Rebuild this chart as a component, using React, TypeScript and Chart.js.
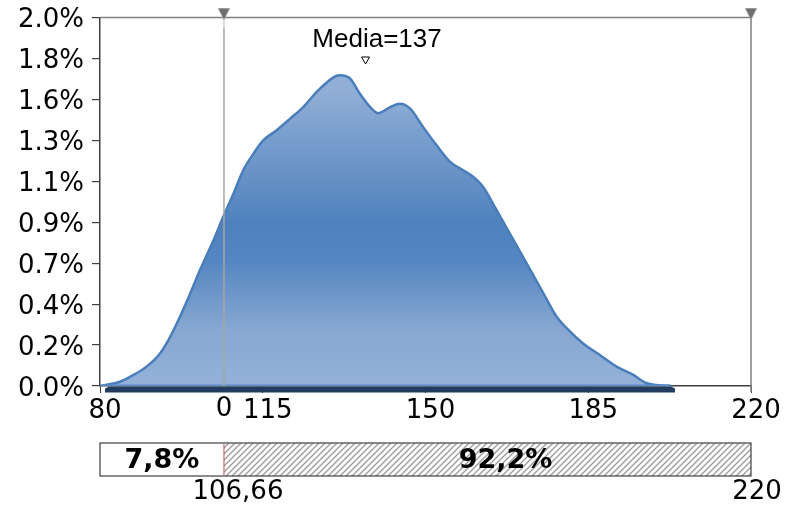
import React, { useEffect, useRef } from 'react';
import { Chart, registerables } from 'chart.js';

Chart.register(...registerables);

// ---- data ----
const CURVE_X = [80.0, 84.3, 87.2, 90.0, 92.9, 95.1, 97.2, 99.4, 101.5, 104.4, 106.5, 108.7, 110.8, 113.0, 115.1, 118.0, 120.9, 123.7, 127.3, 131.6, 133.8, 135.9, 138.1, 139.8, 142.4, 144.5, 146.7, 149.5, 152.4, 155.3, 158.1, 160.3, 162.4, 165.3, 168.2, 171.0, 173.2, 175.3, 178.2, 180.4, 183.9, 187.5, 191.1, 194.7, 197.6, 202.8];
const CURVE_Y = [0.0, 0.023, 0.06, 0.105, 0.177, 0.267, 0.376, 0.502, 0.629, 0.791, 0.918, 1.044, 1.171, 1.261, 1.333, 1.388, 1.451, 1.514, 1.614, 1.686, 1.668, 1.586, 1.514, 1.481, 1.514, 1.532, 1.505, 1.405, 1.306, 1.216, 1.171, 1.134, 1.08, 0.954, 0.824, 0.699, 0.6, 0.506, 0.376, 0.313, 0.231, 0.168, 0.105, 0.06, 0.015, 0.0];

const X_MIN = 80;
const X_MAX = 220;
const X_TICKS = [80, 115, 150, 185, 220];
const X_TICK_LABELS = ['80', '115', '150', '185', '220'];
const Y_MAX = 2.0;
const Y_TICK_LABELS = ['0.0%', '0.2%', '0.4%', '0.7%', '0.9%', '1.1%', '1.3%', '1.6%', '1.8%', '2.0%'];

const LEFT_DELIMITER = 106.66;
const RIGHT_DELIMITER = 220;
const MEAN_VALUE = 137;
const MEAN_LABEL = 'Media=137';
const CLIPPED_LABEL = '0';
const LEFT_PCT = '7,8%';
const RIGHT_PCT = '92,2%';
const LEFT_DELIM_LABEL = '106,66';
const RIGHT_DELIM_LABEL = '220';

const FONT = "'DejaVu Sans', Verdana, sans-serif";

function makeHatch(): CanvasPattern | string {
  const c = document.createElement('canvas');
  c.width = 6;
  c.height = 6;
  const g = c.getContext('2d');
  if (!g) return '#ccc';
  g.fillStyle = '#ffffff';
  g.fillRect(0, 0, 6, 6);
  g.strokeStyle = '#9a9a9a';
  g.lineWidth = 1.3;
  g.beginPath();
  g.moveTo(-1, 7); g.lineTo(7, -1);
  g.moveTo(-4, 4); g.lineTo(4, -4);
  g.moveTo(2, 10); g.lineTo(10, 2);
  g.stroke();
  const p = g.createPattern(c, 'repeat');
  return p || '#ccc';
}

function downTriangle(ctx: CanvasRenderingContext2D, x: number, top: number, w: number, h: number) {
  ctx.beginPath();
  ctx.moveTo(x - w / 2, top);
  ctx.lineTo(x + w / 2, top);
  ctx.lineTo(x, top + h);
  ctx.closePath();
}

const decorPlugin = {
  id: 'decor',
  beforeDatasetsDraw(chart: any) {
    const { ctx, chartArea: a } = chart;
    ctx.save();
    ctx.strokeStyle = '#808080';
    ctx.lineWidth = 1.5;
    ctx.beginPath();
    ctx.moveTo(a.left, a.top);
    ctx.lineTo(a.right, a.top);
    ctx.moveTo(a.right, a.top);
    ctx.lineTo(a.right, a.bottom + 6);
    ctx.stroke();
    ctx.restore();
  },
  afterDatasetsDraw(chart: any) {
    const { ctx, chartArea: a, scales } = chart;
    const xs = scales.x;
    const ys = scales.y;
    const y0 = ys.getPixelForValue(0);
    ctx.save();

    // dark base band under the curve
    const bx0 = xs.getPixelForValue(CURVE_X[0]) + 5;
    const bx1 = xs.getPixelForValue(CURVE_X[CURVE_X.length - 1]) + 4;
    ctx.fillStyle = '#213c5e';
    ctx.beginPath();
    ctx.moveTo(bx0 + 4, y0 + 0.5);
    ctx.lineTo(bx1 - 4, y0 + 0.5);
    ctx.lineTo(bx1, y0 + 2.5);
    ctx.lineTo(bx1, y0 + 6.5);
    ctx.lineTo(bx0, y0 + 6.5);
    ctx.lineTo(bx0, y0 + 2.5);
    ctx.closePath();
    ctx.fill();

    // left delimiter line
    const lx = xs.getPixelForValue(LEFT_DELIMITER);
    ctx.strokeStyle = '#a6a6a6';
    ctx.lineWidth = 1.5;
    ctx.beginPath();
    ctx.moveTo(lx, a.top + 10);
    ctx.lineTo(lx, y0);
    ctx.stroke();
    ctx.strokeStyle = '#d0d0d0';
    ctx.beginPath();
    ctx.moveTo(lx, a.top);
    ctx.lineTo(lx, a.top + 10);
    ctx.stroke();

    // delimiter triangles
    const rx = xs.getPixelForValue(RIGHT_DELIMITER);
    ctx.fillStyle = '#6e6e6e';
    ctx.strokeStyle = '#9a9a9a';
    ctx.lineWidth = 1;
    downTriangle(ctx, lx, a.top - 9, 11, 11);
    ctx.fill();
    ctx.stroke();
    downTriangle(ctx, rx, a.top - 9, 11, 11);
    ctx.fill();
    ctx.stroke();

    // mean marker
    const mx = xs.getPixelForValue(MEAN_VALUE);
    ctx.fillStyle = '#ffffff';
    ctx.strokeStyle = '#000000';
    ctx.lineWidth = 1;
    downTriangle(ctx, mx + 0.5, a.top + 39.5, 8, 7);
    ctx.fill();
    ctx.stroke();
    ctx.fillStyle = '#000000';
    ctx.font = "26px 'Liberation Sans', Arial, sans-serif";
    ctx.textAlign = 'center';
    ctx.textBaseline = 'alphabetic';
    ctx.fillText(MEAN_LABEL, mx + 12, a.top + 29);

    // clipped delimiter label on axis
    ctx.font = `26px ${FONT}`;
    ctx.textBaseline = 'top';
    ctx.fillText(CLIPPED_LABEL, lx, y0 + 10);

    // bottom delimiter bar
    const top = 443;
    const h = 33;
    const left = a.left;
    const right = a.right;
    ctx.fillStyle = '#ffffff';
    ctx.fillRect(left, top, lx - left, h);
    ctx.fillStyle = makeHatch();
    ctx.fillRect(lx, top, right - lx, h);
    ctx.strokeStyle = '#404040';
    ctx.lineWidth = 1.2;
    ctx.strokeRect(left, top, right - left, h);
    ctx.strokeStyle = '#c0504d';
    ctx.lineWidth = 1;
    ctx.beginPath();
    ctx.moveTo(lx, top + 1);
    ctx.lineTo(lx, top + h - 1);
    ctx.stroke();

    ctx.fillStyle = '#000000';
    ctx.font = `bold 27px ${FONT}`;
    ctx.textAlign = 'center';
    ctx.textBaseline = 'middle';
    ctx.fillText(LEFT_PCT, (left + lx) / 2, top + h / 2 + 1);
    ctx.fillText(RIGHT_PCT, (lx + right) / 2 + 18, top + h / 2 + 1);

    ctx.font = `26px ${FONT}`;
    ctx.textBaseline = 'top';
    ctx.fillText(LEFT_DELIM_LABEL, lx + 14, top + h + 3);
    ctx.fillText(RIGHT_DELIM_LABEL, rx + 6, top + h + 3);

    ctx.restore();
  },
};

export default function App() {
  const ref = useRef<HTMLCanvasElement | null>(null);

  useEffect(() => {
    if (!ref.current) return;
    const chart = new Chart(ref.current, {
      type: 'line',
      data: {
        datasets: [
          {
            label: 'density',
            data: CURVE_X.map((x, i) => ({ x, y: CURVE_Y[i] })),
            borderColor: '#4a7ebb',
            borderWidth: 2.5,
            pointRadius: 0,
            cubicInterpolationMode: 'monotone',
            fill: 'origin',
            backgroundColor: (c: any) => {
              const area = c.chart.chartArea;
              if (!area) return '#4f81bd';
              const g = c.chart.ctx.createLinearGradient(0, area.top, 0, area.bottom);
              g.addColorStop(0, '#9cb8db');
              g.addColorStop(0.2, '#90aed6');
              g.addColorStop(0.56, '#4f81bd');
              g.addColorStop(0.66, '#5586c1');
              g.addColorStop(0.85, '#88a8d2');
              g.addColorStop(1, '#93b1d8');
              return g;
            },
            order: 2,
          },
          {
            label: 'base',
            data: [
              { x: CURVE_X[0], y: 0 },
              { x: CURVE_X[CURVE_X.length - 1], y: 0 },
            ],
            borderColor: '#5a8ac6',
            borderWidth: 3,
            pointRadius: 0,
            fill: false,
            order: 1,
          },
        ],
      },
      options: {
        responsive: false,
        animation: false,
        devicePixelRatio: 1,
        layout: { padding: { top: 17.5, right: 34, left: 0, bottom: 0 } },
        plugins: { legend: { display: false }, tooltip: { enabled: false } },
        scales: {
          x: {
            type: 'linear',
            min: X_MIN,
            max: X_MAX,
            afterBuildTicks: (s: any) => {
              s.ticks = X_TICKS.map((v) => ({ value: v }));
            },
            afterFit: (s: any) => {
              s.height = 124;
              s.paddingLeft = 0;
              s.paddingRight = 0;
            },
            ticks: {
              callback: (_v: any, i: number) => X_TICK_LABELS[i],
              font: { family: FONT, size: 26 },
              color: '#000',
              padding: 3,
              labelOffset: 5,
              maxRotation: 0,
              autoSkip: false,
            },
            grid: { drawOnChartArea: false, tickLength: 7, color: '#404040', lineWidth: 1 },
            border: { color: '#404040', width: 1.5 },
          },
          y: {
            type: 'linear',
            min: 0,
            max: Y_MAX,
            afterBuildTicks: (s: any) => {
              s.ticks = Y_TICK_LABELS.map((_l, i) => ({ value: (i * Y_MAX) / (Y_TICK_LABELS.length - 1) }));
            },
            afterFit: (s: any) => {
              s.width = 100;
              s.paddingTop = 0;
              s.paddingBottom = 0;
            },
            ticks: {
              callback: (_v: any, i: number) => Y_TICK_LABELS[i],
              font: { family: FONT, size: 26 },
              color: '#000',
              padding: 8,
              labelOffset: 3,
              autoSkip: false,
            },
            grid: { drawOnChartArea: false, tickLength: 8, color: '#404040', lineWidth: 1.2 },
            border: { color: '#404040', width: 1.5 },
          },
        },
      },
      plugins: [decorPlugin],
    } as any);
    return () => chart.destroy();
  }, []);

  return (
    <div style={{ position: 'absolute', left: 0, top: 0, width: 785, height: 510, background: '#fff' }}>
      <canvas ref={ref} width={785} height={510} style={{ display: 'block' }} />
    </div>
  );
}
